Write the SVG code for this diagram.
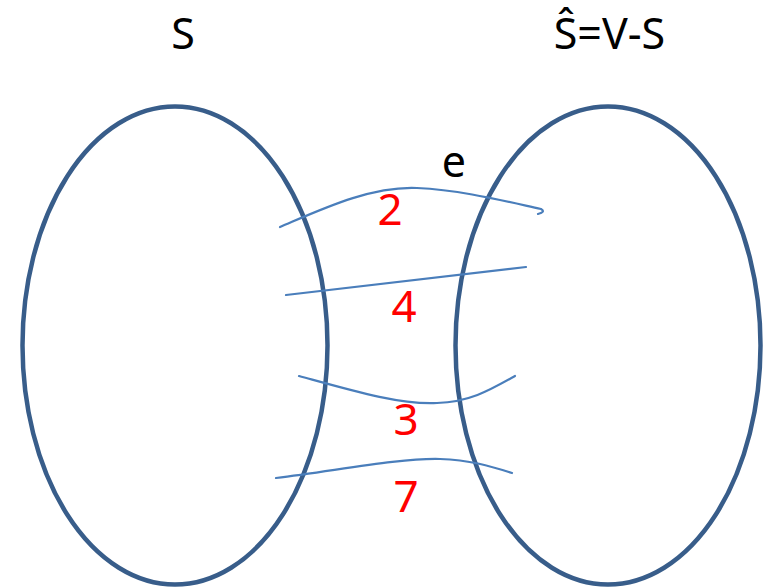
<svg xmlns="http://www.w3.org/2000/svg" width="763" height="588" viewBox="0 0 763 588">
<style>
.set{fill:none;stroke:#385D8A;stroke-width:4.5}
.edge{fill:none;stroke:#4A7EBB;stroke-width:2.2;stroke-linecap:round}
.lbl{font-family:"Noto Sans","Open Sans","Liberation Sans",sans-serif;font-size:43px;fill:#000;text-anchor:middle}
.w{font-family:"Noto Sans","Open Sans","Liberation Sans",sans-serif;font-size:44px;fill:#FF0000;text-anchor:middle}
</style>
<rect width="763" height="588" fill="#fff"/>
<g id="S">
<ellipse class="set" cx="175" cy="345.5" rx="152.5" ry="239"/>
<text class="lbl" x="183" y="49">S</text>
</g>
<g id="S_hat">
<ellipse class="set" cx="608" cy="345.5" rx="152.5" ry="239"/>
<text class="lbl" x="609.5" y="49">Ŝ=V-S</text>
</g>
<g id="edges">
<path class="edge" d="M280,227 C320,210 370,186 417,188 C460,190 500,200 541,209 Q546,212 538,214"/>
<path class="edge" d="M286,295 L526,267"/>
<path class="edge" d="M299,376 C350,390 400,405 437,403 C470,402 490,390 515,376"/>
<path class="edge" d="M276,478 C340,470 400,458 440,459 C470,460 490,466 512,473"/>
</g>
<g id="labels">
<text class="lbl" x="454" y="177">e</text>
<text class="w" x="390" y="225">2</text>
<text class="w" x="404" y="322">4</text>
<text class="w" x="406" y="435">3</text>
<text class="w" x="406" y="512">7</text>
</g>
</svg>
